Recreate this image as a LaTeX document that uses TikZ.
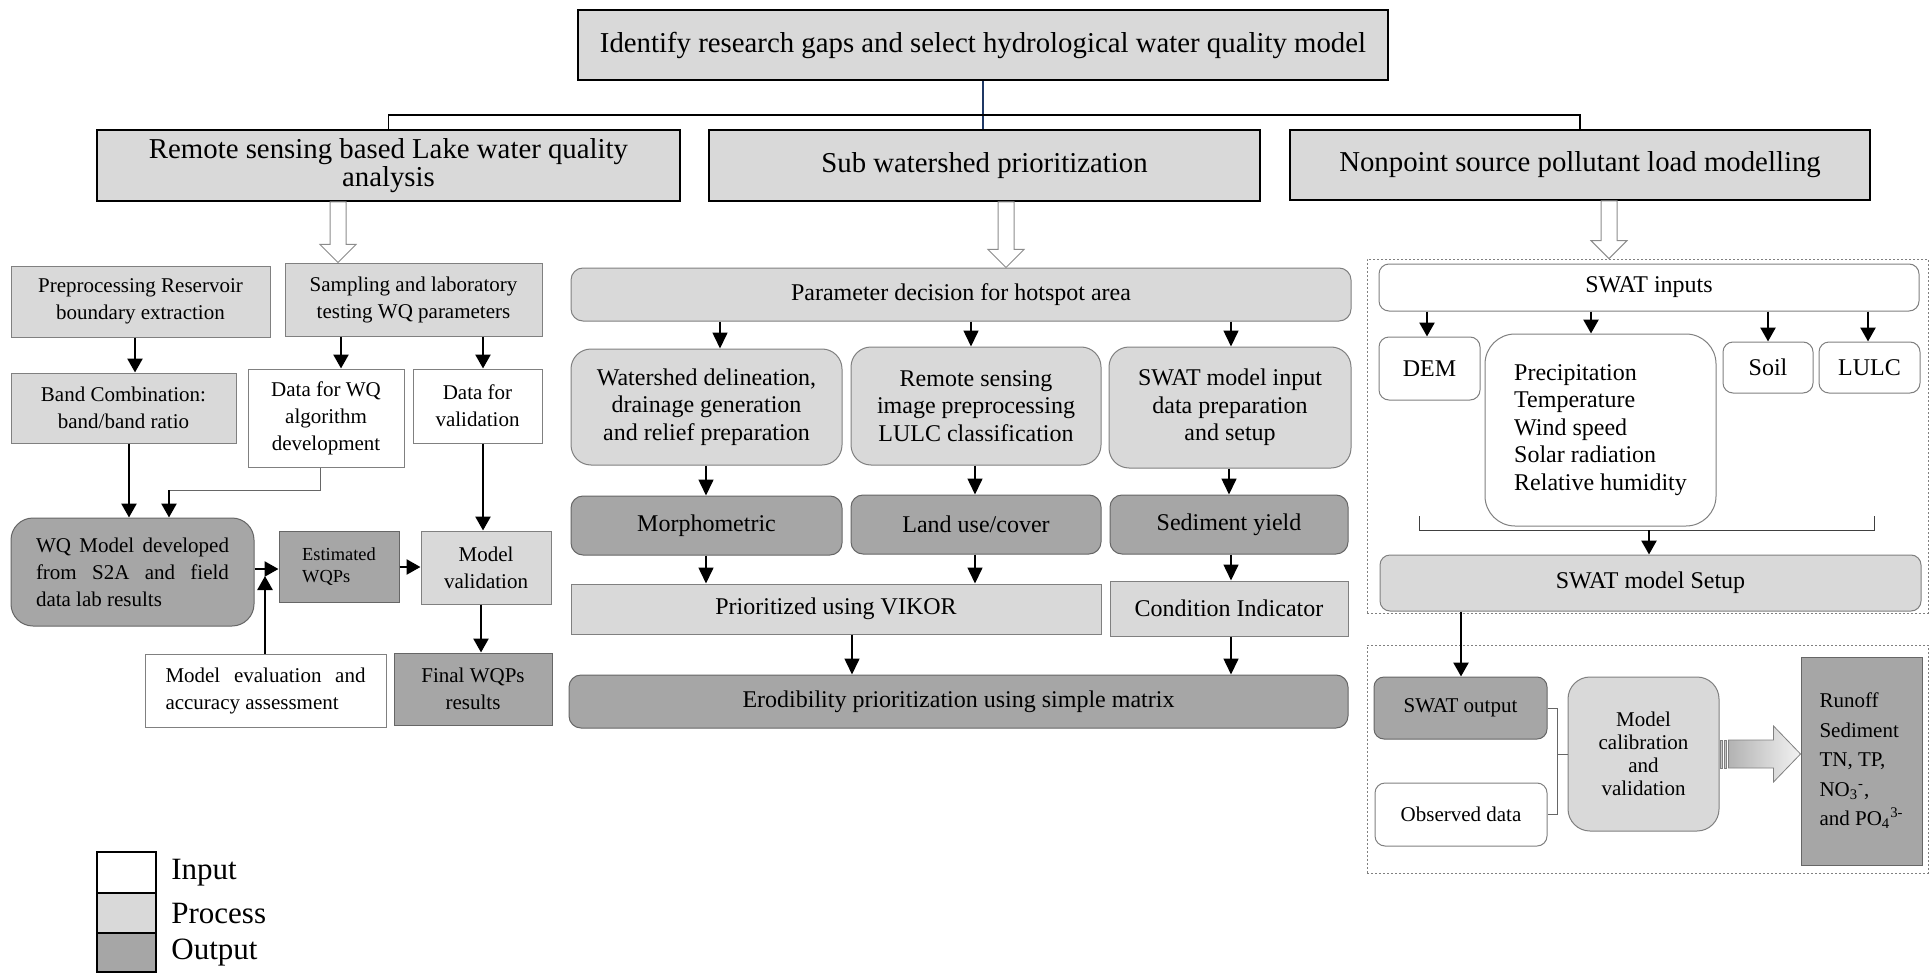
\documentclass[tikz,border=0pt]{standalone}
\usepackage{fontspec}
\setmainfont{Liberation Serif}
\usetikzlibrary{arrows.meta,calc}

\definecolor{procgray}{HTML}{D9D9D9}
\definecolor{outgray}{HTML}{A6A6A6}
\definecolor{navyline}{HTML}{1F3864}

% box given by its corners (x1,y1) (x2,y2)
\newcommand{\boxat}[7]{%
  \node[#2, minimum width={(#5-#3)*0.5pt}, minimum height={(#6-#4)*0.5pt}]
    (#1) at ({(#3+#5)/2},{(#4+#6)/2}) {#7};}

% open block arrow from one box down to the next
\newcommand{\hollowdown}[3]{%
  \path (#1.south -| #3,0) coordinate (ha) (#2.north -| #3,0) coordinate (hb);
  \draw[hollow] ($(ha)+(-8,0)$) -- ($(ha)+(8,0)$) -- ($(hb)+(8,-18)$)
    -- ($(hb)+(18,-18)$) -- (hb) -- ($(hb)+(-18,-18)$) -- ($(hb)+(-8,-18)$) -- cycle;}

\tikzset{
  cellbox/.style={draw=black!50, line width=0.5pt, inner sep=0pt, align=center},
  inbox/.style={cellbox, fill=white},
  procbox/.style={cellbox, fill=procgray},
  outbox/.style={cellbox, draw=black!60, fill=outgray},
  headbox/.style={cellbox, draw=black, line width=1pt, fill=procgray, hfont},
  groupbox/.style={draw=black!50, line width=0.4pt, dash pattern=on 1.2pt off 0.8pt, inner sep=0pt},
  legbox/.style={draw=black, line width=1pt, inner sep=0pt},
  hfont/.style={font=\fontsize{14.4}{14}\selectfont},
  lfont/.style={font=\fontsize{10.5}{13.5}\selectfont},
  sfont/.style={font=\fontsize{9.2}{11}\selectfont},
  mfont/.style={font=\fontsize{12}{13.8}\selectfont},
  cfont/.style={font=\fontsize{10.5}{11.5}\selectfont},
  ofont/.style={font=\fontsize{10.5}{14.7}\selectfont},
  gfont/.style={font=\fontsize{15.5}{16}\selectfont, inner sep=0pt, anchor=west},
  arr/.style={-{Triangle[width=7.5pt,length=7pt]}, line width=1.3pt},
  marr/.style={-{Triangle[width=7.5pt,length=8pt]}, line width=0.8pt},
  link/.style={draw=black!60, line width=0.5pt},
  bracket/.style={draw=black!75, line width=0.5pt},
  hollow/.style={draw=black!45, fill=white, line width=0.5pt},
}

\begin{document}
\begin{tikzpicture}[x=0.5pt,y=-0.5pt]
  \path[use as bounding box, fill=white] (0,0) rectangle (1931,973);

  % top levels
  \boxat{top}{headbox}{578}{10}{1388}{80}{Identify research gaps and select hydrological water quality model}
  \boxat{lake}{headbox}{97}{130}{680}{201}{Remote sensing based Lake water quality\\analysis}
  \boxat{subws}{headbox}{709}{130}{1260}{201}{Sub watershed prioritization}
  \boxat{nps}{headbox}{1290}{130}{1870}{200}{Nonpoint source pollutant load modelling}
  \draw[draw=navyline, line width=0.9pt] (top.south) -- (top.south |- subws.north);
  \draw[line width=0.6pt] (lake.north) -- ++(0,-14) -| (nps.north);

  % lake water quality
  \boxat{pre}{procbox,lfont}{11}{266}{270}{337}{Preprocessing Reservoir\\boundary extraction}
  \boxat{samp}{procbox,lfont}{285}{263}{542}{336}{Sampling and laboratory\\testing WQ parameters}
  \boxat{band}{procbox,lfont}{11}{373}{236}{443}{Band Combination:\\band/band ratio}
  \boxat{dwq}{inbox,lfont}{248}{369}{404}{467}{Data for WQ\\algorithm\\development}
  \boxat{dval}{inbox,lfont}{413}{369}{542}{443}{Data for\\validation}
  \boxat{wqm}{outbox,lfont,rounded corners=11pt}{11}{518}{254}{626}{\makebox[96.5pt][s]{WQ Model developed}\\\makebox[96.5pt][s]{from S2A and field}\\\makebox[96.5pt][l]{data lab results}}
  \boxat{est}{outbox,sfont,align=left}{279}{531}{399}{602}{Estimated\\WQPs}
  \boxat{mval}{procbox,lfont}{421}{531}{551}{604}{Model\\validation}
  \boxat{final}{outbox,lfont}{394}{653}{552}{725}{Final WQPs\\results}
  \boxat{meval}{inbox,lfont}{145}{654}{386}{727}{\makebox[100pt][s]{Model evaluation and}\\\makebox[100pt][l]{accuracy assessment}}

  \hollowdown{lake}{samp}{338}
  \draw[arr] (pre.south -| 135,0) -- (band.north -| 135,0);
  \draw[arr] (samp.south -| 341,0) -- (dwq.north -| 341,0);
  \draw[arr] (samp.south -| 483,0) -- (dval.north -| 483,0);
  \draw[arr] (band.south -| 129,0) -- (wqm.north -| 129,0);
  \coordinate (bend) at (169,490);
  \draw[link] (dwq.south -| 320,0) |- (bend);
  \draw[arr] (bend) -- (wqm.north -| bend);
  \draw[arr] (dval.south -| 483,0) -- (mval.north -| 483,0);
  \draw[arr] (wqm.east |- 0,569) -- (est.west |- 0,569);
  \draw[arr] (est.east |- 0,567) -- (mval.west |- 0,567);
  \draw[arr] (mval.south -| 481,0) -- (final.north -| 481,0);
  \coordinate (junc) at (265,576);
  \draw[arr] (meval.north -| junc) -- (junc);

  % sub watershed prioritization
  \boxat{param}{procbox,mfont,rounded corners=6pt}{571}{268}{1351}{321}{Parameter decision for hotspot area}
  \boxat{wsd}{procbox,mfont,rounded corners=10pt}{571}{349}{842}{465}{Watershed delineation,\\drainage generation\\and relief preparation}
  \boxat{rsi}{procbox,mfont,rounded corners=10pt}{851}{347}{1101}{465}{Remote sensing\\image preprocessing\\LULC classification}
  \boxat{swatin}{procbox,mfont,rounded corners=10pt}{1109}{347}{1351}{468}{SWAT model input\\data preparation\\and setup}
  \boxat{morph}{outbox,mfont,rounded corners=6pt}{571}{496}{842}{555}{Morphometric}
  \boxat{luc}{outbox,mfont,rounded corners=6pt}{851}{495}{1101}{554}{Land use/cover}
  \boxat{sedy}{outbox,mfont,rounded corners=6pt}{1110}{495}{1348}{554}{Sediment yield}
  \boxat{vikor}{procbox,mfont}{571}{584}{1101}{634}{Prioritized using VIKOR}
  \boxat{condi}{procbox,mfont}{1110}{581}{1348}{636}{Condition Indicator}
  \boxat{erod}{outbox,mfont,rounded corners=6pt}{569}{675}{1348}{728}{Erodibility prioritization using simple matrix}

  \hollowdown{subws}{param}{1006}
  \draw[marr] (param.south -| 720,0) -- (wsd.north -| 720,0);
  \draw[marr] (param.south -| 971,0) -- (rsi.north -| 971,0);
  \draw[marr] (param.south -| 1231,0) -- (swatin.north -| 1231,0);
  \draw[marr] (wsd.south -| 706,0) -- (morph.north -| 706,0);
  \draw[marr] (rsi.south -| 975,0) -- (luc.north -| 975,0);
  \draw[marr] (swatin.south -| 1229,0) -- (sedy.north -| 1229,0);
  \draw[marr] (morph.south -| 706,0) -- (vikor.north -| 706,0);
  \draw[marr] (luc.south -| 975,0) -- (vikor.north -| 975,0);
  \draw[marr] (sedy.south -| 1231,0) -- (condi.north -| 1231,0);
  \draw[marr] (vikor.south -| 852,0) -- (erod.north -| 852,0);
  \draw[marr] (condi.south -| 1231,0) -- (erod.north -| 1231,0);

  % nonpoint source modelling
  \boxat{grpA}{groupbox}{1367}{259}{1928}{613}{}
  \boxat{grpB}{groupbox}{1367}{645}{1928}{873}{}
  \boxat{inputs}{inbox,mfont,rounded corners=5pt}{1379}{264}{1919}{311}{SWAT inputs}
  \boxat{dem}{inbox,mfont,rounded corners=5pt}{1379}{337}{1480}{400}{DEM}
  \boxat{clim}{inbox,mfont,rounded corners=15pt,align=left}{1485}{334}{1716}{526}{Precipitation\\Temperature\\Wind speed\\Solar radiation\\Relative humidity}
  \boxat{soil}{inbox,mfont,rounded corners=5pt}{1723}{342}{1813}{393}{Soil}
  \boxat{lulc}{inbox,mfont,rounded corners=5pt}{1819}{342}{1920}{393}{LULC}
  \boxat{setup}{procbox,mfont,rounded corners=5pt}{1380}{555}{1921}{611}{SWAT model Setup}
  \boxat{swout}{outbox,lfont,rounded corners=5pt}{1374}{677}{1547}{739}{SWAT output}
  \boxat{obs}{inbox,lfont,rounded corners=5pt}{1375}{783}{1547}{846}{Observed data}
  \boxat{calib}{procbox,cfont,rounded corners=11pt}{1568}{677}{1719}{831}{Model\\calibration\\and\\validation}
  \boxat{runoff}{outbox,ofont,align=left}{1801}{657}{1922}{865}{Runoff\\Sediment\\TN, TP,\\NO\textsubscript{3}\textsuperscript{-},\\and PO\textsubscript{4}\textsuperscript{3-}}

  \hollowdown{nps}{grpA}{1609}
  \draw[arr] (inputs.south -| 1427,0) -- (dem.north -| 1427,0);
  \draw[arr] (inputs.south -| 1591,0) -- (clim.north -| 1591,0);
  \draw[arr] (inputs.south -| 1768,0) -- (soil.north -| 1768,0);
  \draw[arr] (inputs.south -| 1868,0) -- (lulc.north -| 1868,0);
  \coordinate (brL) at (1419,516);
  \coordinate (brR) at (1874,516);
  \coordinate (brM) at (1649,530);
  \draw[bracket] (brL) -- ++(0,14) -| (brR);
  \draw[arr] (brM) -- (setup.north -| brM);
  \draw[arr] (setup.south -| 1461,0) -- (swout.north -| 1461,0);
  \coordinate (jn) at (1557,754);
  \draw[link] (swout.east) -| (jn) |- (obs.east);
  \draw[link] (jn) -- (calib.west);
  \path (calib.east) coordinate (ta) (calib.east -| runoff.west) coordinate (tb);
  \draw[draw=black!50, fill=gray!45, line width=0.3pt] ($(ta)+(1,-14)$) rectangle ($(ta)+(3,14)$);
  \draw[draw=black!50, fill=gray!45, line width=0.3pt] ($(ta)+(5,-14)$) rectangle ($(ta)+(7,14)$);
  \shadedraw[left color=gray!60, right color=gray!10, draw=black!50, line width=0.4pt]
    ($(ta)+(9,-14)$) -- ($(tb)+(-27,-14)$) -- ($(tb)+(-27,-28)$) -- (tb)
    -- ($(tb)+(-27,28)$) -- ($(tb)+(-27,14)$) -- ($(ta)+(9,14)$) -- cycle;

  % legend
  \boxat{legin}{legbox,fill=white}{97}{852}{156}{893}{}
  \boxat{legproc}{legbox,fill=procgray}{97}{893}{156}{933}{}
  \boxat{legout}{legbox,fill=outgray}{97}{933}{156}{972}{}
  \node[gfont] (legintxt) at ($(legin.east)+(14,0)$) {Input};
  \node[gfont] (legproctxt) at ($(legproc.east)+(14,0)$) {Process};
  \node[gfont] (legouttxt) at ($(legout.east)+(14,0)$) {Output};
\end{tikzpicture}
\end{document}
